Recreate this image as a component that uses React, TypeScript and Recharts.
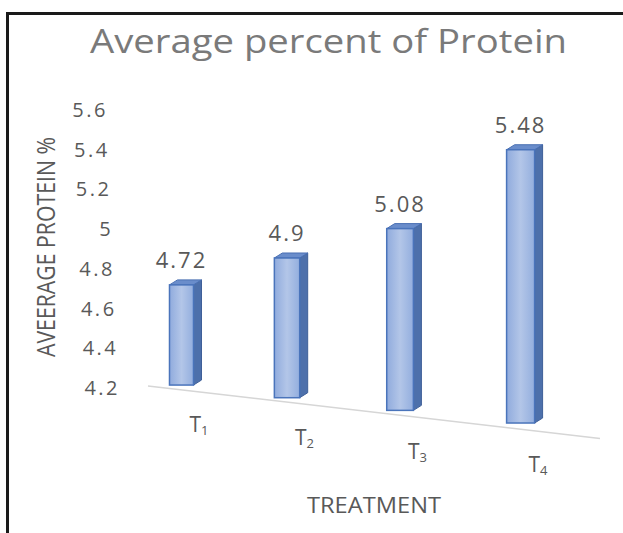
import React from "react";
import { BarChart, Bar, XAxis, YAxis, ReferenceLine } from "recharts";

const treatments = ["T1", "T2", "T3", "T4"];
const subscripts = ["1", "2", "3", "4"];
const protein = [4.72, 4.9, 5.08, 5.48];
const yTicks = [4.2, 4.4, 4.6, 4.8, 5, 5.2, 5.4, 5.6];

const data = treatments.map((t, i) => ({ name: t, sub: subscripts[i], value: protein[i] }));

const W = 623;
const H = 533;
const PLOT_LEFT = 121.5;
const PLOT_RIGHT = 573.5;
const PLOT_TOP = 110;
const PLOT_BOTTOM = 388;
const X_AXIS_H = 30;
const BAND = (PLOT_RIGHT - PLOT_LEFT) / treatments.length;
const ANCHOR = PLOT_LEFT + BAND / 2;
const MID = (PLOT_LEFT + PLOT_RIGHT) / 2;

const FONT = "'Open Sans', 'Noto Sans', sans-serif";
const TEXT = "#595959";

// rough perspective: the picture is tilted, bars further right sit lower and look bigger
function project(x: number, y: number, width: number, height: number) {
  const cx = x + width / 2;
  const d = cx - ANCHOR;
  const px = cx + 0.000294 * (cx - MID) ** 2 - 5.4;
  const w = width * (0.923 + 0.000454 * d);
  const h = height * (0.97 + 0.00031 * d);
  const bottom = y + height - 3 + 0.112 * d;
  return { px, left: px - w / 2, w, top: bottom - h, bottom };
}

function BarShape(props: any) {
  const { x, y, width, height, payload } = props;
  const p = project(x, y, width, height);
  const dx = 8;
  const dy = 5;
  const r = p.left + p.w;
  return (
    <g>
      <polygon
        points={`${r},${p.top} ${r + dx},${p.top - dy} ${r + dx},${p.bottom - dy} ${r},${p.bottom}`}
        fill="#4D70AB"
        stroke="#3E5F98"
        strokeWidth={1}
      />
      <polygon
        points={`${p.left},${p.top} ${p.left + dx},${p.top - dy} ${r + dx},${p.top - dy} ${r},${p.top}`}
        fill="#6A8DCB"
        stroke="#4A70B3"
        strokeWidth={1}
      />
      <rect x={p.left} y={p.top} width={p.w} height={p.bottom - p.top} fill="url(#front)" stroke="#4A74BB" strokeWidth={1.5} />
      <text
        x={p.px}
        y={p.top - 17}
        textAnchor="middle"
        fontFamily={FONT}
        fontSize={22}
        letterSpacing={2}
        fill={TEXT}
      >
        {payload.value}
      </text>
    </g>
  );
}

function XTick(props: any) {
  const { x, payload, index } = props;
  const d = x - ANCHOR;
  const px = x + 0.000294 * (x - MID) ** 2 - 5.4 + 18;
  const base = PLOT_BOTTOM + 44 + 0.118 * d;
  return (
    <text x={px} y={base} textAnchor="middle" fontFamily={FONT} fontSize={21} fill={TEXT}>
      <tspan>{payload.value.charAt(0)}</tspan>
      <tspan fontSize={13} dy={3}>{subscripts[index]}</tspan>
    </text>
  );
}

function YTick(props: any) {
  const { x, y, payload } = props;
  const shift = -1.5 - (PLOT_BOTTOM - y) * 0.0432;
  return (
    <text x={x + shift} y={y + 7} textAnchor="end" fontFamily={FONT} fontSize={20} letterSpacing={2.5} fill={TEXT}>
      {payload.value}
    </text>
  );
}

function FloorLine(props: any) {
  const { x1, y1, x2 } = props;
  const a = x1 + 26.5;
  const b = x2 + 26.5;
  const yAt = (v: number) => y1 + 1.5 + 0.116 * (v - ANCHOR);
  return <line x1={a} y1={yAt(a)} x2={b} y2={yAt(b)} stroke="#D6D6D6" strokeWidth={1.5} />;
}

export default function App() {
  return (
    <div style={{ position: "absolute", left: 0, top: 0, width: W, height: H, background: "#fff", overflow: "hidden" }}>
      <div
        style={{
          position: "absolute",
          left: 6,
          top: 12,
          width: W,
          height: H,
          borderLeft: "3px solid #1a1a1a",
          borderTop: "3px solid #1a1a1a",
        }}
      />
      <BarChart
        width={W}
        height={H}
        data={data}
        margin={{ top: PLOT_TOP, right: W - PLOT_RIGHT, bottom: H - PLOT_BOTTOM - X_AXIS_H, left: 0 }}
        style={{ position: "absolute", left: 0, top: 0 }}
      >
        <defs>
          <linearGradient id="front" x1="0" y1="0" x2="1" y2="0">
            <stop offset="0%" stopColor="#90ABDD" />
            <stop offset="50%" stopColor="#B3C6E8" />
            <stop offset="100%" stopColor="#93AEDE" />
          </linearGradient>
        </defs>
        <XAxis dataKey="name" axisLine={false} tickLine={false} height={X_AXIS_H} interval={0} tick={<XTick />} />
        <YAxis
          type="number"
          domain={[4.2, 5.6]}
          ticks={yTicks}
          width={PLOT_LEFT}
          axisLine={false}
          tickLine={false}
          tickSize={0}
          tickMargin={0}
          tick={<YTick />}
        />
        <ReferenceLine y={4.2} shape={<FloorLine />} />
        <Bar dataKey="value" barSize={26} isAnimationActive={false} shape={<BarShape />} />
      </BarChart>
      <svg width={W} height={H} style={{ position: "absolute", left: 0, top: 0, pointerEvents: "none" }}>
        <text x={90} y={53} fontFamily={FONT} fontSize={32} fill="#7A7A7A" textLength={477} lengthAdjust="spacingAndGlyphs">
          Average percent of Protein
        </text>
        <text
          transform="translate(46,247) rotate(-90)"
          x={0}
          y={8.6}
          textAnchor="middle"
          fontFamily={FONT}
          fontSize={25}
          fill={TEXT}
          textLength={220}
          lengthAdjust="spacingAndGlyphs"
        >
          AVEERAGE PROTEIN %
        </text>
        <text x={307} y={513} fontFamily={FONT} fontSize={22} fill={TEXT} textLength={134} lengthAdjust="spacingAndGlyphs">
          TREATMENT
        </text>
      </svg>
    </div>
  );
}
